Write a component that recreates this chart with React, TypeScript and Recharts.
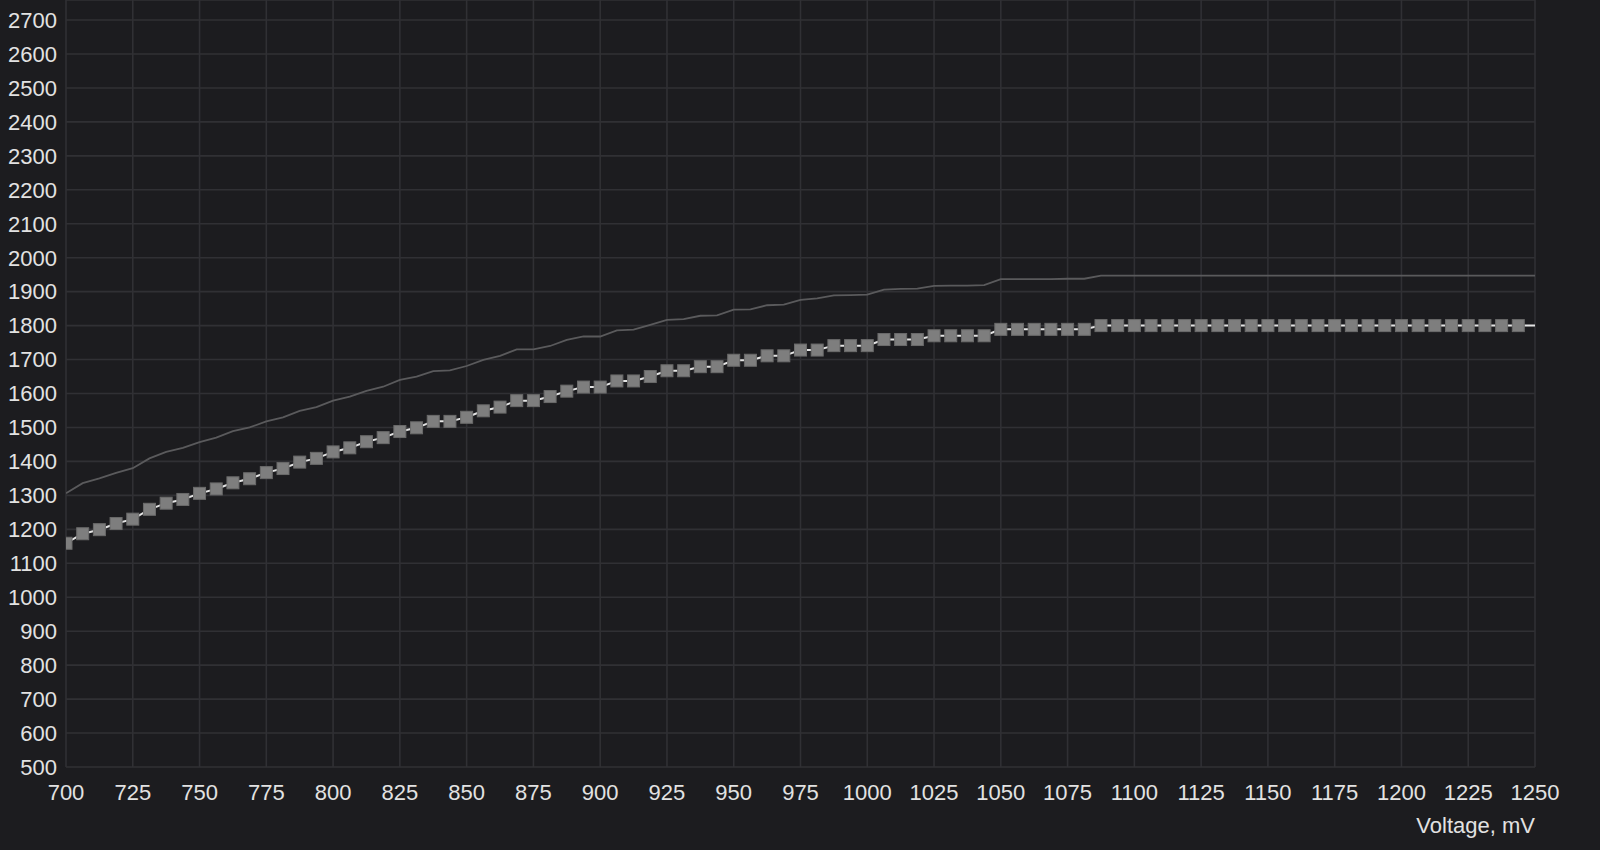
import React from "react";
import { LineChart, Line, XAxis, YAxis, CartesianGrid } from "recharts";

// Voltage points (mV), 6.25 mV apart; the last one lies just past the visible edge
const voltages = [
  700, 706.25, 712.5, 718.75, 725, 731.25, 737.5, 743.75, 750, 756.25,
  762.5, 768.75, 775, 781.25, 787.5, 793.75, 800, 806.25, 812.5, 818.75,
  825, 831.25, 837.5, 843.75, 850, 856.25, 862.5, 868.75, 875, 881.25,
  887.5, 893.75, 900, 906.25, 912.5, 918.75, 925, 931.25, 937.5, 943.75,
  950, 956.25, 962.5, 968.75, 975, 981.25, 987.5, 993.75, 1000, 1006.25,
  1012.5, 1018.75, 1025, 1031.25, 1037.5, 1043.75, 1050, 1056.25, 1062.5, 1068.75,
  1075, 1081.25, 1087.5, 1093.75, 1100, 1106.25, 1112.5, 1118.75, 1125, 1131.25,
  1137.5, 1143.75, 1150, 1156.25, 1162.5, 1168.75, 1175, 1181.25, 1187.5, 1193.75,
  1200, 1206.25, 1212.5, 1218.75, 1225, 1231.25, 1237.5, 1243.75, 1256.25,
];

// Edited V/F curve (square markers), MHz
const curveMHz = [
  1159, 1187, 1199, 1217, 1230, 1259, 1277, 1288, 1306, 1319,
  1337, 1349, 1367, 1379, 1398, 1409, 1428, 1440, 1458, 1470,
  1488, 1499, 1518, 1518, 1530, 1549, 1560, 1579, 1579, 1591,
  1607, 1619, 1619, 1637, 1637, 1650, 1667, 1667, 1679, 1679,
  1698, 1698, 1711, 1711, 1728, 1728, 1741, 1741, 1741, 1759,
  1759, 1759, 1770, 1770, 1770, 1770, 1789, 1789, 1789, 1789,
  1789, 1789, 1800, 1800, 1800, 1800, 1800, 1800, 1800, 1800,
  1800, 1800, 1800, 1800, 1800, 1800, 1800, 1800, 1800, 1800,
  1800, 1800, 1800, 1800, 1800, 1800, 1800, 1800, 1800,
];

// Default curve (thin grey line), MHz
const defaultMHz = [
  1306, 1336, 1350, 1366, 1380, 1409, 1428, 1440, 1457, 1470,
  1489, 1500, 1518, 1530, 1549, 1560, 1579, 1591, 1608, 1620,
  1640, 1650, 1666, 1668, 1681, 1699, 1711, 1730, 1730, 1740,
  1758, 1768, 1768, 1786, 1788, 1802, 1817, 1819, 1829, 1830,
  1847, 1848, 1860, 1862, 1876, 1880, 1889, 1890, 1891, 1906,
  1908, 1909, 1917, 1918, 1918, 1919, 1937, 1937, 1937, 1937,
  1938, 1938, 1947, 1947, 1947, 1947, 1947, 1947, 1947, 1947,
  1947, 1947, 1947, 1947, 1947, 1947, 1947, 1947, 1947, 1947,
  1947, 1947, 1947, 1947, 1947, 1947, 1947, 1947, 1947,
];

const xTicks = [
  700, 725, 750, 775, 800, 825, 850, 875, 900, 925, 950, 975,
  1000, 1025, 1050, 1075, 1100, 1125, 1150, 1175, 1200, 1225, 1250,
];
const yTicks = [
  500, 600, 700, 800, 900, 1000, 1100, 1200, 1300, 1400, 1500, 1600,
  1700, 1800, 1900, 2000, 2100, 2200, 2300, 2400, 2500, 2600, 2700,
];

const data = voltages.map((v, i) => ({ v, curve: curveMHz[i], base: defaultMHz[i] }));

const FONT = "'Liberation Sans', Arial, sans-serif";
const TEXT = "#e2e2e2";

const SquareDot = (props: any) => {
  const { cx, cy, index } = props;
  if (cx == null || cy == null) return null;
  return (
    <rect
      key={`sq-${index}`}
      x={cx - 6}
      y={cy - 6}
      width={12}
      height={12}
      fill="#7e7e7e"
      stroke="#6b6b6b"
      strokeWidth={1}
    />
  );
};

const AxisTitle = (props: any) => {
  const vb = props.viewBox || {};
  return (
    <text
      x={vb.x + vb.width}
      y={vb.y + 66}
      textAnchor="end"
      fill={TEXT}
      fontSize={22}
      fontFamily={FONT}
    >
      Voltage, mV
    </text>
  );
};

export default function App() {
  return (
    <div style={{ width: 1600, height: 850, background: "#1c1c1f" }}>
      <style>{`html,body{margin:0;padding:0;background:#1c1c1f;}`}</style>
      <LineChart
        width={1600}
        height={850}
        data={data}
        margin={{ top: 0, right: 65, bottom: 0, left: 0 }}
      >
        <CartesianGrid stroke="#303034" strokeWidth={1.6} />
        <XAxis
          dataKey="v"
          type="number"
          domain={[700, 1250]}
          ticks={xTicks}
          allowDataOverflow
          interval={0}
          height={83}
          tickSize={0}
          tickMargin={17}
          axisLine={false}
          tickLine={false}
          tick={{ fill: TEXT, fontSize: 22, fontFamily: FONT }}
          label={AxisTitle}
        />
        <YAxis
          type="number"
          domain={[500, 2759]}
          ticks={yTicks}
          allowDataOverflow
          interval={0}
          width={66}
          tickSize={0}
          tickMargin={9}
          axisLine={false}
          tickLine={false}
          tick={{ fill: TEXT, fontSize: 22, fontFamily: FONT }}
        />
        <Line
          dataKey="base"
          type="linear"
          stroke="#5a5a5c"
          strokeWidth={1.8}
          dot={false}
          activeDot={false}
          isAnimationActive={false}
        />
        <Line
          dataKey="curve"
          type="linear"
          stroke="#e4e4e4"
          strokeWidth={2}
          dot={SquareDot}
          activeDot={false}
          isAnimationActive={false}
        />
      </LineChart>
    </div>
  );
}
